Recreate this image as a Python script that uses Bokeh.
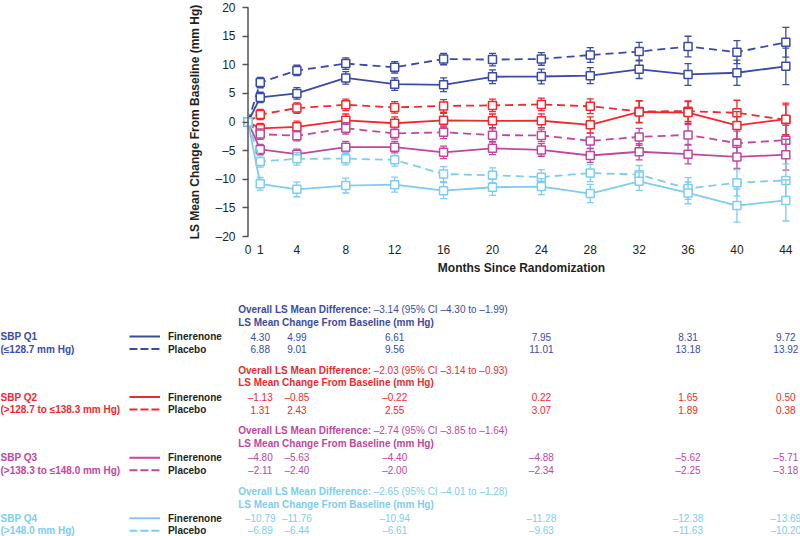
from bokeh.plotting import figure
from bokeh.models import Range1d, Span, FixedTicker
from bokeh.embed import file_html
from bokeh.resources import INLINE
from bokeh.core.properties import value

# ---------------- data ----------------
months = [0, 1, 4, 8, 12, 16, 20, 24, 28, 32, 36, 40, 44]

q1_fin = [0, 4.30, 4.99, 7.7, 6.61, 6.5, 7.9, 7.95, 8.1, 9.2, 8.31, 8.6, 9.72]
q1_fin_err = [0, 0.9, 1.0, 1.1, 1.1, 1.2, 1.2, 1.3, 1.4, 1.6, 1.9, 2.2, 3.2]
q1_pla = [0, 6.88, 9.01, 10.2, 9.56, 11.0, 10.9, 11.01, 11.7, 12.3, 13.18, 12.2, 13.92]
q1_pla_err = [0, 0.9, 0.9, 1.0, 1.0, 1.0, 1.1, 1.1, 1.3, 1.6, 1.8, 2.0, 2.6]

q2_fin = [0, -1.13, -0.85, 0.3, -0.22, 0.3, 0.2, 0.22, -0.5, 1.75, 1.65, -0.6, 0.50]
q2_fin_err = [0, 0.9, 1.0, 1.1, 1.1, 1.2, 1.2, 1.2, 1.4, 1.9, 1.9, 2.4, 2.8]
q2_pla = [0, 1.31, 2.43, 3.0, 2.55, 2.8, 2.9, 3.07, 2.75, 1.85, 1.89, 1.6, 0.38]
q2_pla_err = [0, 0.9, 0.9, 1.0, 1.0, 1.1, 1.1, 1.1, 1.3, 1.9, 1.8, 2.2, 2.6]

q3_fin = [0, -4.80, -5.63, -4.4, -4.40, -5.3, -4.6, -4.88, -5.85, -5.2, -5.62, -6.1, -5.71]
q3_fin_err = [0, 0.9, 0.9, 1.0, 1.0, 1.1, 1.1, 1.1, 1.2, 1.4, 1.7, 2.0, 2.7]
q3_pla = [0, -2.11, -2.40, -1.1, -2.00, -1.8, -2.3, -2.34, -3.3, -2.6, -2.25, -3.7, -3.18]
q3_pla_err = [0, 0.9, 0.9, 1.0, 1.0, 1.1, 1.1, 1.1, 1.3, 1.5, 1.8, 2.1, 2.6]

q4_fin = [0, -10.79, -11.76, -11.1, -10.94, -12.0, -11.4, -11.28, -12.5, -10.35, -12.38, -14.6, -13.69]
q4_fin_err = [0, 1.1, 1.3, 1.3, 1.3, 1.4, 1.4, 1.4, 1.6, 1.6, 1.9, 2.9, 3.6]
q4_pla = [0, -6.89, -6.44, -6.4, -6.61, -9.1, -9.3, -9.63, -8.9, -9.2, -11.63, -10.6, -10.20]
q4_pla_err = [0, 1.0, 1.1, 1.1, 1.1, 1.3, 1.3, 1.3, 1.5, 1.6, 1.9, 2.3, 2.9]

table_months = [1, 4, 12, 24, 36, 44]
q1_tab_fin = [4.30, 4.99, 6.61, 7.95, 8.31, 9.72]
q1_tab_pla = [6.88, 9.01, 9.56, 11.01, 13.18, 13.92]
q2_tab_fin = [-1.13, -0.85, -0.22, 0.22, 1.65, 0.50]
q2_tab_pla = [1.31, 2.43, 2.55, 3.07, 1.89, 0.38]
q3_tab_fin = [-4.80, -5.63, -4.40, -4.88, -5.62, -5.71]
q3_tab_pla = [-2.11, -2.40, -2.00, -2.34, -2.25, -3.18]
q4_tab_fin = [-10.79, -11.76, -10.94, -11.28, -12.38, -13.69]
q4_tab_pla = [-6.89, -6.44, -6.61, -9.63, -11.63, -10.20]

q_names = ["SBP Q1", "SBP Q2", "SBP Q3", "SBP Q4"]
q_ranges = ["(≤128.7 mm Hg)", "(>128.7 to ≤138.3 mm Hg)",
            "(>138.3 to ≤148.0 mm Hg)", "(>148.0 mm Hg)"]
q_diffs = ["–3.14 (95% CI –4.30 to –1.99)", "–2.03 (95% CI –3.14 to –0.93)",
           "–2.74 (95% CI –3.85 to –1.64)", "–2.65 (95% CI –4.01 to –1.28)"]
q_colors = ["#3b4ba5", "#ee2a2e", "#c1479d", "#7dcdf1"]
arm_names = ["Finerenone", "Placebo"]

y_ticks = [-20, -15, -10, -5, 0, 5, 10, 15, 20]
y_tick_labels = ["–20", "–15", "–10", "–5", "0", "5", "10", "15", "20"]
x_ticks = months

FONT = "Liberation Sans"
TXT = "#231f20"

groups = [
    (q1_fin, q1_fin_err, q1_pla, q1_pla_err, q1_tab_fin, q1_tab_pla),
    (q2_fin, q2_fin_err, q2_pla, q2_pla_err, q2_tab_fin, q2_tab_pla),
    (q3_fin, q3_fin_err, q3_pla, q3_pla_err, q3_tab_fin, q3_tab_pla),
    (q4_fin, q4_fin_err, q4_pla, q4_pla_err, q4_tab_fin, q4_tab_pla),
]

W = 800
LEFT = 242
X0, X1 = -0.45, 45.2
px_per = (W - LEFT) / (X1 - X0)
CH = 290
TOP = 7
FRAME_H = 229

# ---------------- chart ----------------
p = figure(width=W, height=CH, x_range=Range1d(X0, X1), y_range=Range1d(-20, 20),
           output_backend="svg", toolbar_location=None,
           min_border_left=LEFT, min_border_right=0, min_border_top=TOP,
           min_border_bottom=CH - TOP - FRAME_H)
p.outline_line_color = None
p.grid.visible = False
p.background_fill_color = "white"

p.yaxis.ticker = FixedTicker(ticks=y_ticks)
p.yaxis.major_label_overrides = {t: l for t, l in zip(y_ticks, y_tick_labels)}
p.yaxis.axis_line_color = None
p.yaxis.major_tick_in = int(round(-X0 * px_per))
p.yaxis.major_tick_out = 0
p.yaxis.major_tick_line_color = "#555555"
p.yaxis.major_tick_line_width = 1.5
p.yaxis.minor_tick_line_color = None
p.yaxis.major_label_standoff = 7
p.yaxis.axis_label = "LS Mean Change From Baseline (mm Hg)"
p.yaxis.axis_label_standoff = 10

p.xaxis.ticker = FixedTicker(ticks=x_ticks)
p.xaxis.axis_line_color = None
p.xaxis.major_tick_line_color = None
p.xaxis.minor_tick_line_color = None
p.xaxis.major_label_standoff = 2
p.xaxis.axis_label = "Months Since Randomization"
p.xaxis.axis_label_standoff = 4

for ax in (p.xaxis, p.yaxis):
    ax.major_label_text_font = FONT
    ax.major_label_text_font_size = "12px"
    ax.major_label_text_color = TXT
    ax.axis_label_text_font = FONT
    ax.axis_label_text_font_size = "12px"
    ax.axis_label_text_font_style = "bold"
    ax.axis_label_text_color = TXT

p.add_layout(Span(location=0, dimension="height", line_color="#555555", line_width=1.5))

for (fin, fin_e, pla, pla_e, _, _), col in zip(groups, q_colors):
    for vals, errs, dash in ((pla, pla_e, "8 5"), (fin, fin_e, "solid")):
        xs = months[1:]
        lo = [v - e for v, e in zip(vals[1:], errs[1:])]
        hi = [v + e for v, e in zip(vals[1:], errs[1:])]
        p.segment(x0=xs, y0=lo, x1=xs, y1=hi, line_color=col, line_width=1.3)
        p.scatter(xs, lo, marker="dash", size=7, line_color=col, line_width=1.3)
        p.scatter(xs, hi, marker="dash", size=7, line_color=col, line_width=1.3)
        p.line(months, vals, line_color=col, line_width=1.8, line_dash=dash)
        p.scatter(months, vals, marker="square", size=8, fill_color="white",
                  line_color=col, line_width=1.5)

# ---------------- table ----------------
TH = 536 - CH
tx0 = X0 - LEFT / px_per
t = figure(width=W, height=TH, x_range=Range1d(tx0, X1), y_range=Range1d(TH, 0),
           output_backend="svg", toolbar_location=None, x_axis_type=None, y_axis_type=None,
           min_border=0)
t.outline_line_color = None
t.grid.visible = False

def fmt(v):
    return f"{v:.2f}".replace("-", "–")

common = dict(text_font=value(FONT), text_font_size="10px", text_baseline="middle")
for g, ((_, _, _, _, tfin, tpla), col) in enumerate(zip(groups, q_colors)):
    y0 = 19 + 60.6 * g
    r1, r2 = y0 + 27, y0 + 39.5
    t.text(x=[-0.8], y=[y0], text=["Overall LS Mean Difference:"], text_color=col,
           text_font_style="bold", text_align="left", **common)
    t.text(x=[-0.8], y=[y0], text=[q_diffs[g]], text_color=col, x_offset=135.5,
           text_align="left", **common)
    t.text(x=[-0.8], y=[y0 + 12.7], text=["LS Mean Change From Baseline (mm Hg)"],
           text_color=col, text_font_style="bold", text_align="left", **common)
    t.text(x=[tx0, tx0], y=[r1, r2], text=[q_names[g], q_ranges[g]], text_color=col,
           text_font_style="bold", text_align="left", **common)
    t.segment(x0=[-9.7], x1=[-7.2], y0=[r1], y1=[r1], line_color=col, line_width=2)
    t.segment(x0=[-9.7], x1=[-7.2], y0=[r2], y1=[r2], line_color=col, line_width=2,
              line_dash="8 3")
    t.text(x=[-6.55, -6.55], y=[r1, r2], text=arm_names, text_color=TXT,
           text_font_style="bold", text_align="left", **common)
    t.text(x=table_months, y=[r1] * len(table_months), text=[fmt(v) for v in tfin],
           text_color=col, text_align="center", **common)
    t.text(x=table_months, y=[r2] * len(table_months), text=[fmt(v) for v in tpla],
           text_color=col, text_align="center", **common)

open("out.html", "w").write(file_html([p, t], INLINE))
